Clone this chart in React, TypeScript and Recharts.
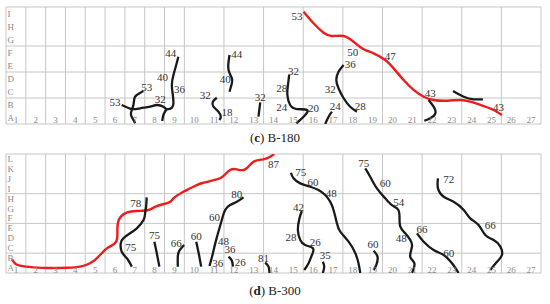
import { ComposedChart, Line, Scatter, XAxis, YAxis, CartesianGrid } from "recharts";

// grid categories
const colNumbers = [1, 2, 3, 4, 5, 6, 7, 8, 9, 10, 11, 12, 13, 14, 15, 16, 17, 18, 19, 20, 21, 22, 23, 24, 25, 26, 27];
const rows180 = ["A", "B", "C", "D", "E", "F", "G", "H", "I"];
const rows300 = ["A", "B", "C", "D", "E", "F", "G", "H", "I", "J", "K", "L"];

// (c) B-180 cracks, in grid units [column, row]
const b180Main = [[5.84, 1.46], [6.35, 1.15], [6.77, 1.21], [7.27, 1.33], [7.61, 1.46], [7.94, 1.33], [8.12, 1.15], [8.37, 1.25], [8.45, 1.59], [8.42, 2.23], [8.37, 3.0], [8.45, 3.77], [8.59, 4.54], [8.7, 5.18]];
const b180Left = [[6.93, 2.54], [6.6, 2.23], [6.48, 1.98], [6.43, 1.46], [6.35, 1.08], [6.31, 0.69], [6.43, 0.31], [6.52, 0.05]];
const b180Branch = [[8.12, 1.15], [7.96, 0.77], [7.88, 0.23]];
const b180Col12 = [[11.28, 5.31], [11.23, 4.79], [11.23, 4.15], [11.4, 3.52], [11.4, 3.13], [11.28, 2.48]];
const b180Col11 = [[10.64, 2.02], [10.44, 1.72], [10.47, 1.33], [10.72, 0.95], [10.84, 0.56], [10.77, 0.31]];
const b180Col13 = [[12.83, 1.67], [12.74, 0.56]];
const b180Col15 = [[14.29, 3.77], [14.23, 3.0], [14.2, 2.23], [14.34, 1.46], [14.68, 1.15], [15.19, 1.08], [15.1, 0.69], [14.85, 0.31], [14.65, 0.05]];
const b180Col17 = [[16.45, 0.95], [16.28, 0.56], [16.11, 0]];
const b180Col18 = [[17.04, 4.54], [16.78, 4.02], [16.67, 3.38], [16.78, 2.75], [17.04, 1.98], [17.37, 1.33], [17.71, 0.95]];
const b180Col22 = [[21.33, 1.85], [21.58, 1.33], [21.67, 0.82], [21.41, 0.44], [21.11, 0.25]];
const b180Col24 = [[22.56, 2.54], [23.1, 2.1], [23.6, 1.9], [24.07, 1.9]];
const b180Red = [[15.02, 8.64], [15.52, 7.75], [16.03, 7.02], [16.45, 6.77], [17.04, 6.77], [17.54, 6.33], [18.05, 5.75], [18.55, 5.44], [19.14, 4.92], [19.56, 4.28], [20.07, 3.38], [20.57, 2.62], [21.08, 2.1], [21.58, 1.85], [22.26, 1.79], [22.93, 1.85], [23.43, 1.72], [24.11, 1.38], [24.61, 1.08], [25.03, 0.69]];
const b180Black = [b180Main, b180Left, b180Branch, b180Col12, b180Col11, b180Col13, b180Col15, b180Col17, b180Col18, b180Col22, b180Col24];
const b180Labels = [
  [5.5, 1.67, "53"], [7.1, 2.87, "53"], [7.78, 1.92, "32"], [8.75, 2.69, "36"], [7.9, 3.64, "40"], [8.32, 5.44, "44"],
  [11.65, 5.38, "44"], [11.06, 3.46, "40"], [10.05, 2.23, "32"], [11.15, 0.95, "18"], [12.83, 2.1, "32"],
  [14.51, 4.08, "32"], [13.92, 2.79, "28"], [13.92, 1.33, "24"], [15.52, 1.25, "20"], [16.62, 1.38, "24"],
  [17.37, 4.62, "36"], [16.36, 2.67, "32"], [17.88, 1.38, "28"], [14.68, 8.31, "53"], [17.5, 5.56, "50"],
  [19.39, 5.23, "47"], [21.41, 2.36, "43"], [24.86, 1.28, "43"],
];

// (d) B-300 cracks
const b300Col7 = [[7.1, 7.63], [7.07, 6.68], [7.02, 6.02], [6.94, 5.34], [6.6, 4.5], [6.26, 4.0], [5.92, 3.49], [5.79, 2.99], [5.84, 2.15], [6.1, 1.48], [6.35, 0.64]];
const b300Col8 = [[7.49, 3.16], [7.61, 1.99], [7.74, 0.64]];
const b300Col9 = [[8.99, 2.82], [8.75, 2.25], [8.67, 1.64], [8.67, 0.64]];
const b300Col10 = [[9.6, 3.16], [9.71, 2.15], [9.85, 0.64]];
const b300Col11 = [[11.99, 7.63], [11.65, 7.19], [11.31, 6.85], [11.06, 6.35], [10.89, 5.34], [10.72, 4.16], [10.56, 2.99], [10.42, 1.81], [10.27, 0.71]];
const b300Col12 = [[11.23, 1.64], [11.4, 1.24], [11.45, 0.64]];
const b300Col14 = [[13.08, 1.04], [13.25, 0.64], [13.3, 0]];
const b300Col17 = [[14.38, 10.11], [14.51, 9.55], [14.85, 9.04], [15.35, 8.7], [15.77, 8.37], [16.11, 7.86], [16.36, 7.19], [16.53, 6.35], [16.7, 5.01], [16.87, 4.17], [17.29, 3.16], [17.63, 1.99], [17.79, 0.98], [17.88, 0]];
const b300Col15 = [[14.93, 6.25], [14.81, 5.51], [14.73, 4.33], [14.85, 3.33], [15.1, 2.82], [15.49, 2.49], [15.44, 1.81], [15.27, 0.98], [15.05, 0.3]];
const b300Col16 = [[15.99, 1.14], [16.06, 0.64], [15.99, 0]];
const b300Col20 = [[18.13, 10.55], [18.38, 9.71], [18.72, 8.53], [19.14, 7.53], [19.48, 6.85], [19.78, 6.42], [19.86, 5.68], [19.9, 4.67], [20.15, 4.0], [20.4, 3.33], [20.49, 2.66], [20.4, 1.64], [20.61, 0.98], [20.49, 0]];
const b300Col19 = [[18.55, 2.25], [18.75, 1.64], [18.69, 0.81], [18.55, 0.3]];
const b300Col22 = [[20.74, 4.0], [21.08, 3.16], [21.58, 2.32], [22.09, 1.81], [22.51, 0.98], [22.84, 0]];
const b300Col24 = [[21.8, 9.55], [21.8, 8.53], [22.09, 7.69], [22.59, 7.19], [23.1, 6.35], [23.43, 5.51], [23.85, 4.84], [24.19, 3.83], [24.61, 3.33], [24.95, 2.66], [25.03, 1.81], [24.78, 1.14], [24.44, 0.3]];
const b300Red = [[0.29, 1.38], [0.45, 0.98], [0.71, 0.74], [1.38, 0.57], [2.22, 0.5], [3.07, 0.53], [3.74, 0.64], [4.24, 0.98], [4.58, 1.48], [4.83, 1.99], [5.17, 2.59], [5.56, 3.16], [5.62, 4.33], [5.69, 5.34], [6.01, 6.02], [6.6, 6.25], [7.19, 6.35], [7.61, 6.75], [8.2, 7.09], [8.45, 7.53], [8.95, 8.2], [9.63, 8.87], [9.96, 9.1], [10.64, 9.45], [10.97, 9.78], [11.31, 10.38], [11.65, 10.45], [12.07, 10.45], [12.49, 11.22], [12.99, 11.46], [13.33, 11.72], [13.54, 12]];
const b300Black = [b300Col7, b300Col8, b300Col9, b300Col10, b300Col11, b300Col12, b300Col14, b300Col17, b300Col15, b300Col16, b300Col20, b300Col19, b300Col22, b300Col24];
const b300Labels = [
  [6.55, 7.03, "78"], [6.3, 2.65, "75"], [7.49, 3.83, "75"], [8.59, 3.05, "66"], [9.6, 3.73, "60"],
  [11.65, 7.96, "80"], [10.52, 5.61, "60"], [10.98, 3.26, "48"], [10.69, 1.04, "36"], [11.31, 2.39, "36"],
  [11.82, 1.14, "26"], [13.0, 1.54, "81"], [13.5, 10.96, "87"], [14.88, 10.21, "75"], [15.49, 9.2, "60"],
  [16.41, 8.03, "48"], [14.76, 6.68, "42"], [14.38, 3.66, "28"], [15.61, 3.16, "26"], [16.11, 1.81, "35"],
  [18.05, 11.06, "75"], [19.14, 9.04, "60"], [19.82, 7.19, "54"], [19.95, 3.5, "48"], [18.52, 2.89, "60"],
  [20.99, 4.4, "66"], [22.34, 2.05, "60"], [22.34, 9.48, "72"], [24.44, 4.84, "66"],
];

const SERIF = "'Liberation Serif', 'DejaVu Serif', serif";

const toPts = (arr: number[][]) => arr.map(([x, y]) => ({ x, y }));

function CrackPanel({ rows, black, red, labels, height }: any) {
  const nRows = rows.length;
  const xTicks = [0, ...colNumbers];
  const yTicks = Array.from({ length: nRows + 1 }, (_, i) => i);
  const gridText = [
    ...rows.map((r: string, i: number) => ({ x: 0.08, y: i + 0.5, t: r, a: "start" })),
    ...colNumbers.map((c) => ({ x: c - 0.5, y: 0.32, t: String(c), a: "middle" })),
  ];
  const crackText = labels.map(([x, y, t]: any) => ({ x, y, t }));
  return (
    <ComposedChart width={537} height={height} margin={{ top: 1, right: 1, bottom: 1, left: 1 }}>
      <CartesianGrid stroke="#c6c6c6" strokeWidth={1} />
      <XAxis type="number" dataKey="x" domain={[0, 27]} ticks={xTicks} hide allowDataOverflow />
      <YAxis type="number" dataKey="y" domain={[0, nRows]} ticks={yTicks} hide allowDataOverflow />
      <Scatter
        data={gridText}
        isAnimationActive={false}
        shape={(p: any) => (
          <text x={p.cx} y={p.cy} textAnchor={p.payload.a} dominantBaseline="central" fontSize={9} fill="#8a8a8a" fontFamily={SERIF}>
            {p.payload.t}
          </text>
        )}
      />
      {red && (
        <Line data={toPts(red)} dataKey="y" type="natural" stroke="#ee1c1c" strokeWidth={2.4} dot={false} isAnimationActive={false} />
      )}
      {black.map((c: number[][], i: number) => (
        <Line key={i} data={toPts(c)} dataKey="y" type="natural" stroke="#1a1a1a" strokeWidth={2.3} dot={false} isAnimationActive={false} />
      ))}
      <Scatter
        data={crackText}
        isAnimationActive={false}
        shape={(p: any) => (
          <text x={p.cx} y={p.cy} textAnchor="middle" dominantBaseline="central" fontSize={11} fill="#333" fontFamily={SERIF}>
            {p.payload.t}
          </text>
        )}
      />
    </ComposedChart>
  );
}

export default function App() {
  return (
    <div style={{ position: "absolute", left: 0, top: 0, width: 550, height: 304, background: "#fff" }}>
      <div style={{ position: "absolute", left: 5, top: 6 }}>
        <CrackPanel rows={rows180} black={b180Black} red={b180Red} labels={b180Labels} height={119} />
      </div>
      <div style={{ position: "absolute", left: 0, width: 550, top: 130, textAlign: "center", fontFamily: SERIF, fontSize: 13, color: "#222" }}>
        (<b>c</b>) B-180
      </div>
      <div style={{ position: "absolute", left: 5, top: 153 }}>
        <CrackPanel rows={rows300} black={b300Black} red={b300Red} labels={b300Labels} height={121} />
      </div>
      <div style={{ position: "absolute", left: 0, width: 550, top: 283, textAlign: "center", fontFamily: SERIF, fontSize: 13, color: "#222" }}>
        (<b>d</b>) B-300
      </div>
    </div>
  );
}
